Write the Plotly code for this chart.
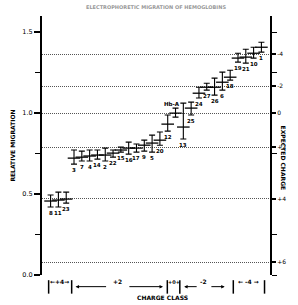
import plotly.graph_objects as go

# ---- data ----
labels = ["8", "11", "23", "3", "7", "4", "14", "2", "22", "15", "16", "17", "9", "5",
          "20", "12", "Hb-A", "13", "25", "24", "27", "26", "6", "18", "19", "21", "10", "1"]
lane = list(range(len(labels)))
migration = [0.457, 0.463, 0.469, 0.722, 0.728, 0.735, 0.741, 0.741, 0.753, 0.772, 0.784, 0.784,
             0.802, 0.815, 0.833, 0.932, 1.000, 0.914, 1.031, 1.123, 1.160, 1.160, 1.191, 1.222,
             1.340, 1.346, 1.370, 1.407]
upper = [0.494, 0.512, 0.512, 0.772, 0.765, 0.772, 0.772, 0.784, 0.772, 0.790, 0.821, 0.809,
         0.833, 0.864, 0.883, 0.988, 1.031, 1.062, 1.068, 1.160, 1.185, 1.216, 1.253, 1.265,
         1.370, 1.395, 1.407, 1.438]
lower = [0.420, 0.420, 0.444, 0.685, 0.704, 0.704, 0.716, 0.704, 0.728, 0.759, 0.747, 0.759,
         0.765, 0.759, 0.802, 0.889, 0.975, 0.840, 0.988, 1.093, 1.142, 1.111, 1.142, 1.204,
         1.315, 1.309, 1.340, 1.377]

left_ticks = [0.0, 0.5, 1.0, 1.5]
left_ticktext = ["0.0", "0.5", "1.0", "1.5"]
left_minor = [0.25, 0.75, 1.25]

charge_pos = [1.364, 1.167, 1.0, 0.79, 0.472, 0.08]
charge_text = ["-4", "-2", "0", "+2", "+4", "+6"]
right_minor = [0.0, 0.25, 0.75, 1.25, 1.5]

# charge class group boundaries (in lane units)
class_bounds = [-0.25, 2.7, 14.95, 16.55, 23.4, 27.4]

FONT = "DejaVu Sans"

plus = [u - m for u, m in zip(upper, migration)]
minus = [m - l for m, l in zip(migration, lower)]

fig = go.Figure()
fig.add_trace(go.Scatter(
    x=lane, y=migration, mode="markers",
    marker=dict(symbol="line-ew", size=9, line=dict(width=1.3, color="black"), color="black"),
    error_y=dict(type="data", array=plus, arrayminus=minus, symmetric=False,
                 color="black", thickness=1.1, width=3),
    showlegend=False, hoverinfo="skip"))
fig.add_trace(go.Scatter(x=[lane[0]], y=[migration[0]], yaxis="y2", mode="markers",
                         marker=dict(opacity=0), showlegend=False, hoverinfo="skip"))

ann = []
for i, (lb, lo, hi) in enumerate(zip(labels, lower, upper)):
    if lb == "Hb-A":
        ann.append(dict(x=i, y=hi, text="<b>Hb-A</b>", showarrow=False, yanchor="bottom",
                        xshift=-4, yshift=-1, font=dict(size=5.5, family=FONT, color="black")))
    else:
        ann.append(dict(x=i, y=lo, text="<b>" + lb + "</b>", showarrow=False, yanchor="top",
                        yshift=-1, font=dict(size=5.5, family=FONT, color="black")))

ylab = -0.045
f6 = dict(size=6, family=FONT, color="black")
ann += [
    dict(x=1.2, y=ylab, yref="paper", text="<b>←+4→</b>", showarrow=False, font=f6),
    dict(x=8.6, y=ylab, yref="paper", text="<b>+2</b>", showarrow=False, font=f6),
    dict(x=15.75, y=ylab, yref="paper", text="<b>+0+</b>", showarrow=False, font=dict(size=5, family=FONT, color="black")),
    dict(x=19.6, y=ylab, yref="paper", text="<b>-2</b>", showarrow=False, font=f6),
    dict(x=25.4, y=ylab, yref="paper", text="<b>← -4 →</b>", showarrow=False, font=f6),
]
# arrows for wide groups
for tip, tail in [(3.2, 7.3), (14.4, 9.9), (17.1, 18.9), (22.3, 20.4)]:
    ann.append(dict(x=tip, y=ylab, yref="paper", ax=tail, ay=0, axref="x", ayref="pixel",
                    text="", showarrow=True, arrowhead=2, arrowsize=0.7, arrowwidth=1,
                    arrowcolor="black"))
ann += [
    dict(x=0.53, y=-0.108, xref="paper", yref="paper", text="<b>CHARGE CLASS</b>", showarrow=False,
         yanchor="bottom", font=dict(size=6, family=FONT, color="black")),
    dict(x=1.085, y=0.45, xref="paper", yref="paper", text="<b>EXPECTED CHARGE</b>", showarrow=False,
         textangle=90, font=dict(size=6, family=FONT, color="black")),
    dict(x=0.5, y=1.0, xref="paper", yref="paper", yshift=14, text="<b>ELECTROPHORETIC MIGRATION OF HEMOGLOBINS</b>",
         showarrow=False, font=dict(size=5, family=FONT, color="#999")),
]

shapes = []
for b in class_bounds:
    shapes.append(dict(type="line", x0=b, x1=b, y0=-0.02, y1=-0.072, xref="x", yref="paper",
                       line=dict(color="black", width=1.5)))

fig.update_layout(
    width=298, height=305,
    margin=dict(l=31, r=27, t=16, b=30),
    paper_bgcolor="white", plot_bgcolor="white",
    xaxis=dict(range=[-1.1, 28.1], visible=False),
    yaxis=dict(range=[0, 1.6], tickvals=left_ticks, ticktext=left_ticktext,
               ticks="outside", ticklen=6, tickwidth=1.5, tickcolor="black",
               showline=True, linewidth=2, linecolor="black", showgrid=False, zeroline=False,
               minor=dict(tickmode="array", tickvals=left_minor, ticks="outside", ticklen=5,
                          tickwidth=1, tickcolor="black", showgrid=False),
               tickfont=dict(size=6.5, family=FONT, color="black"),
               title=dict(text="<b>RELATIVE MIGRATION</b>", standoff=6,
                          font=dict(size=6, family=FONT, color="black"))),
    yaxis2=dict(range=[0, 1.6], overlaying="y", side="right", tickvals=charge_pos,
                ticktext=charge_text, ticks="outside", ticklen=4, tickwidth=1.5, tickcolor="black",
                showline=True, linewidth=2, linecolor="black", zeroline=False,
                showgrid=True, griddash="1px,1px", gridcolor="#555", gridwidth=1.2,
                minor=dict(tickmode="array", tickvals=right_minor, ticks="outside", ticklen=5,
                           tickwidth=1, tickcolor="black", showgrid=False),
                tickfont=dict(size=6, family=FONT, color="black")),
    annotations=ann, shapes=shapes,
)

fig.write_html("out.html")
